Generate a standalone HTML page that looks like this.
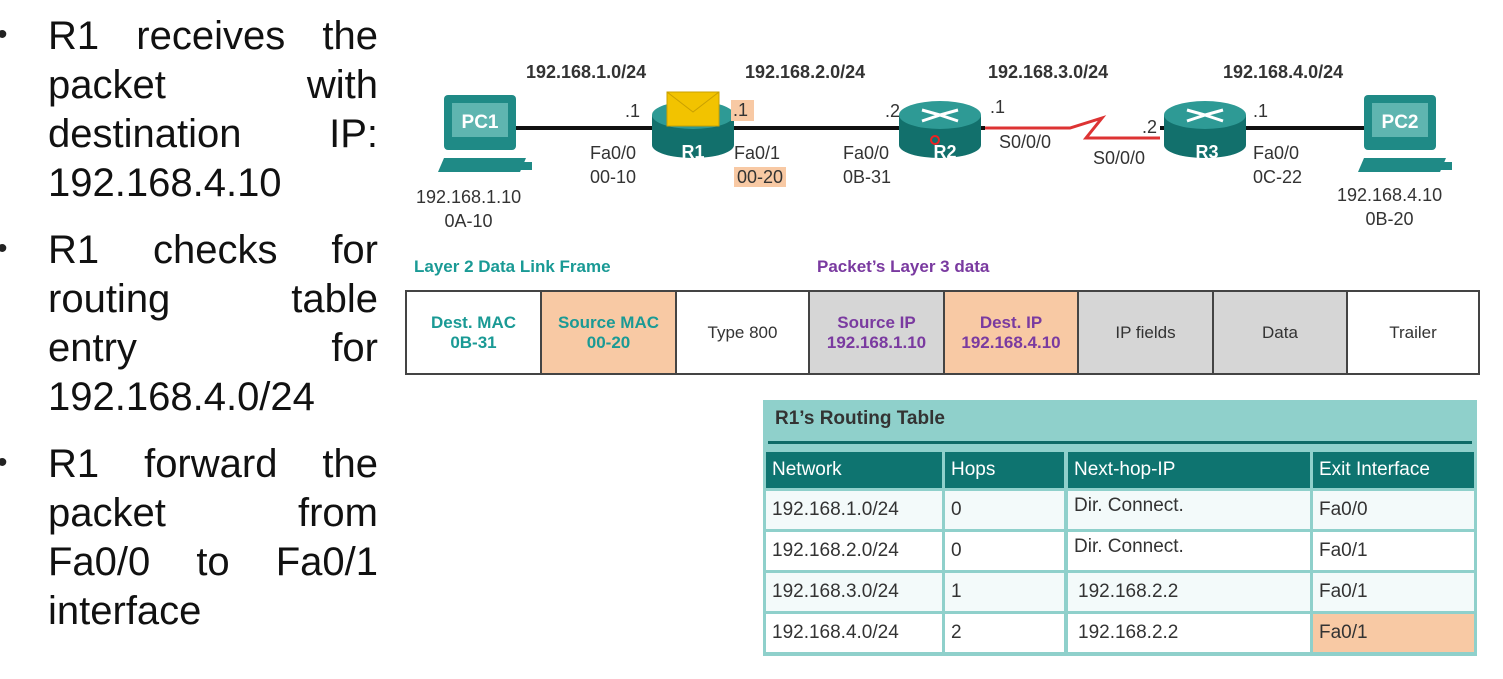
<!DOCTYPE html><html><head><style>
body{margin:0;width:1503px;height:679px;background:#fff;position:relative;overflow:hidden;font-family:"Liberation Sans",sans-serif}
.a{position:absolute;white-space:nowrap}
.l{position:absolute;left:48px;width:330px;font-size:40px;line-height:49px;height:49px;text-align:justify;text-align-last:justify;color:#111;white-space:nowrap}
.l.e{text-align-last:left}
.dot{position:absolute;left:-3px;font-size:30px;color:#222}
.s{font-size:18px;color:#333}
.b{font-weight:bold;font-size:18px;color:#333}
.cell{position:absolute;top:290px;height:85px;border:2px solid #444;box-sizing:border-box;display:flex;align-items:center;justify-content:center;text-align:center;font-size:17px;line-height:20px}
.rt{position:absolute;box-sizing:border-box;font-size:19px;color:#333;padding-left:6px;display:flex;align-items:center}
.h{background:#0e7470;color:#fff}
</style></head><body>
<div class="dot a" style="top:18px">•</div>
<div class="dot a" style="top:232px">•</div>
<div class="dot a" style="top:446px">•</div>
<div class="l" style="top:12px">R1 receives the</div>
<div class="l" style="top:61px">packet with</div>
<div class="l" style="top:110px">destination IP:</div>
<div class="l e" style="top:159px">192.168.4.10</div>
<div class="l" style="top:226px">R1 checks for</div>
<div class="l" style="top:275px">routing table</div>
<div class="l" style="top:324px">entry for</div>
<div class="l e" style="top:373px">192.168.4.0/24</div>
<div class="l" style="top:440px">R1 forward the</div>
<div class="l" style="top:489px">packet from</div>
<div class="l" style="top:538px">Fa0/0 to Fa0/1</div>
<div class="l e" style="top:587px">interface</div>

<svg class="a" style="left:0;top:0" width="1503" height="280">
<line x1="500" y1="128" x2="985" y2="128" stroke="#111" stroke-width="4"/>
<line x1="1160" y1="128" x2="1380" y2="128" stroke="#111" stroke-width="4"/>
<polyline points="985,128 1070,128 1102,118 1086,138 1160,138" fill="none" stroke="#d33" stroke-width="3"/>
<g fill="#1f8a86">
<rect x="444" y="95" width="72" height="55" rx="4"/><rect x="452" y="103" width="56" height="34" fill="#5fb5b0"/>
<polygon points="438,172 520,172 526,158 444,158"/><rect x="520" y="162" width="12" height="8"/>
<rect x="1364" y="95" width="72" height="55" rx="4"/><rect x="1372" y="103" width="56" height="34" fill="#5fb5b0"/>
<polygon points="1358,172 1440,172 1446,158 1364,158"/><rect x="1440" y="162" width="12" height="8"/>
</g>
<text x="480" y="128" font-size="19" font-weight="bold" fill="#fff" text-anchor="middle">PC1</text>
<text x="1400" y="128" font-size="19" font-weight="bold" fill="#fff" text-anchor="middle">PC2</text>
<g>
<rect x="652" y="115" width="82" height="30" fill="#12706c"/><ellipse cx="693" cy="145" rx="41" ry="13" fill="#12706c"/><ellipse cx="693" cy="115" rx="41" ry="14" fill="#2e9a95"/>
<rect x="899" y="115" width="82" height="30" fill="#12706c"/><ellipse cx="940" cy="145" rx="41" ry="13" fill="#12706c"/><ellipse cx="940" cy="115" rx="41" ry="14" fill="#2e9a95"/>
<rect x="1164" y="115" width="82" height="30" fill="#12706c"/><ellipse cx="1205" cy="145" rx="41" ry="13" fill="#12706c"/><ellipse cx="1205" cy="115" rx="41" ry="14" fill="#2e9a95"/>
</g>
<rect x="667" y="92" width="52" height="34" fill="#f2c300" stroke="#c9a000"/><polyline points="667,92 693,112 719,92" fill="none" stroke="#c9a000"/>
<g stroke="#fff" stroke-width="3" fill="none"><path d="M922 110 L940 115 L922 121 M958 110 L940 115 L958 121"/><path d="M1187 110 L1205 115 L1187 121 M1223 110 L1205 115 L1223 121"/></g>
<circle cx="935" cy="140" r="4" fill="none" stroke="#e22" stroke-width="2"/>
<text x="693" y="158" font-size="18" font-weight="bold" fill="#fff" text-anchor="middle">R1</text>
<text x="945" y="158" font-size="18" font-weight="bold" fill="#fff" text-anchor="middle">R2</text>
<text x="1207" y="158" font-size="18" font-weight="bold" fill="#fff" text-anchor="middle">R3</text>
</svg>
<div class="a b" style="left:526px;top:62px">192.168.1.0/24</div>
<div class="a b" style="left:745px;top:62px">192.168.2.0/24</div>
<div class="a b" style="left:988px;top:62px">192.168.3.0/24</div>
<div class="a b" style="left:1223px;top:62px">192.168.4.0/24</div>
<div class="a s" style="left:625px;top:101px">.1</div>
<div class="a s" style="left:731px;top:100px;background:#f8c9a4;padding:0 6px 0 2px">.1</div>
<div class="a s" style="left:885px;top:101px">.2</div>
<div class="a s" style="left:990px;top:97px">.1</div>
<div class="a s" style="left:1142px;top:117px">.2</div>
<div class="a s" style="left:1253px;top:101px">.1</div>
<div class="a s" style="left:590px;top:141px;line-height:24px">Fa0/0<br>00-10</div>
<div class="a s" style="left:734px;top:141px;line-height:24px">Fa0/1<br><span style="background:#f8c9a4;padding:0 3px">00-20</span></div>
<div class="a s" style="left:843px;top:141px;line-height:24px">Fa0/0<br>0B-31</div>
<div class="a s" style="left:999px;top:132px">S0/0/0</div>
<div class="a s" style="left:1093px;top:148px">S0/0/0</div>
<div class="a s" style="left:1253px;top:141px;line-height:24px">Fa0/0<br>0C-22</div>
<div class="a s" style="left:416px;top:185px;line-height:24px;text-align:center">192.168.1.10<br>0A-10</div>
<div class="a s" style="left:1337px;top:183px;line-height:24px;text-align:center">192.168.4.10<br>0B-20</div>
<div class="a" style="left:414px;top:257px;font-size:17px;font-weight:bold;color:#1a9a95">Layer 2 Data Link Frame</div>
<div class="a" style="left:817px;top:257px;font-size:17px;font-weight:bold;color:#7a3aa0">Packet’s Layer 3 data</div>
<div class="cell" style="left:405px;width:137px;color:#1a9a95;font-weight:bold">Dest. MAC<br>0B-31</div>
<div class="cell" style="left:540px;width:137px;background:#f8c9a4;color:#1a9a95;font-weight:bold">Source MAC<br>00-20</div>
<div class="cell" style="left:675px;width:135px;color:#333">Type 800</div>
<div class="cell" style="left:808px;width:137px;background:#d6d6d6;color:#7a3aa0;font-weight:bold">Source IP<br>192.168.1.10</div>
<div class="cell" style="left:943px;width:136px;background:#f8c9a4;color:#7a3aa0;font-weight:bold">Dest. IP<br>192.168.4.10</div>
<div class="cell" style="left:1077px;width:137px;background:#d6d6d6;color:#333">IP fields</div>
<div class="cell" style="left:1212px;width:136px;background:#d6d6d6;color:#333">Data</div>
<div class="cell" style="left:1346px;width:134px;color:#333">Trailer</div>

<div class="a" style="left:763px;top:400px;width:714px;height:256px;background:#8fd0cb"></div>
<div class="a" style="left:775px;top:408px;font-size:19px;font-weight:bold;color:#333">R1’s Routing Table</div>
<div class="a" style="left:768px;top:441px;width:704px;height:3px;background:#0e6a66"></div>
<div class="rt h" style="left:766px;top:452px;width:176px;height:36px">Network</div>
<div class="rt h" style="left:945px;top:452px;width:119px;height:36px">Hops</div>
<div class="rt h" style="left:1068px;top:452px;width:242px;height:36px">Next-hop-IP</div>
<div class="rt h" style="left:1313px;top:452px;width:161px;height:36px">Exit Interface</div>
<div class="rt" style="left:766px;top:491px;width:176px;height:38px;background:#f3fafa">192.168.1.0/24</div>
<div class="rt" style="left:945px;top:491px;width:119px;height:38px;background:#f3fafa">0</div>
<div class="rt" style="left:1068px;top:491px;width:242px;height:38px;background:#f3fafa;align-items:flex-start;padding-top:4px">Dir. Connect.</div>
<div class="rt" style="left:1313px;top:491px;width:161px;height:38px;background:#f3fafa">Fa0/0</div>
<div class="rt" style="left:766px;top:532px;width:176px;height:38px;background:#fff">192.168.2.0/24</div>
<div class="rt" style="left:945px;top:532px;width:119px;height:38px;background:#fff">0</div>
<div class="rt" style="left:1068px;top:532px;width:242px;height:38px;background:#fff;align-items:flex-start;padding-top:4px">Dir. Connect.</div>
<div class="rt" style="left:1313px;top:532px;width:161px;height:38px;background:#fff">Fa0/1</div>
<div class="rt" style="left:766px;top:573px;width:176px;height:38px;background:#f3fafa">192.168.3.0/24</div>
<div class="rt" style="left:945px;top:573px;width:119px;height:38px;background:#f3fafa">1</div>
<div class="rt" style="left:1068px;top:573px;width:242px;height:38px;background:#f3fafa;padding-left:10px">192.168.2.2</div>
<div class="rt" style="left:1313px;top:573px;width:161px;height:38px;background:#f3fafa">Fa0/1</div>
<div class="rt" style="left:766px;top:614px;width:176px;height:38px;background:#fff">192.168.4.0/24</div>
<div class="rt" style="left:945px;top:614px;width:119px;height:38px;background:#fff">2</div>
<div class="rt" style="left:1068px;top:614px;width:242px;height:38px;background:#fff;padding-left:10px">192.168.2.2</div>
<div class="rt" style="left:1313px;top:614px;width:161px;height:38px;background:#f8c9a4">Fa0/1</div>
</body></html>
